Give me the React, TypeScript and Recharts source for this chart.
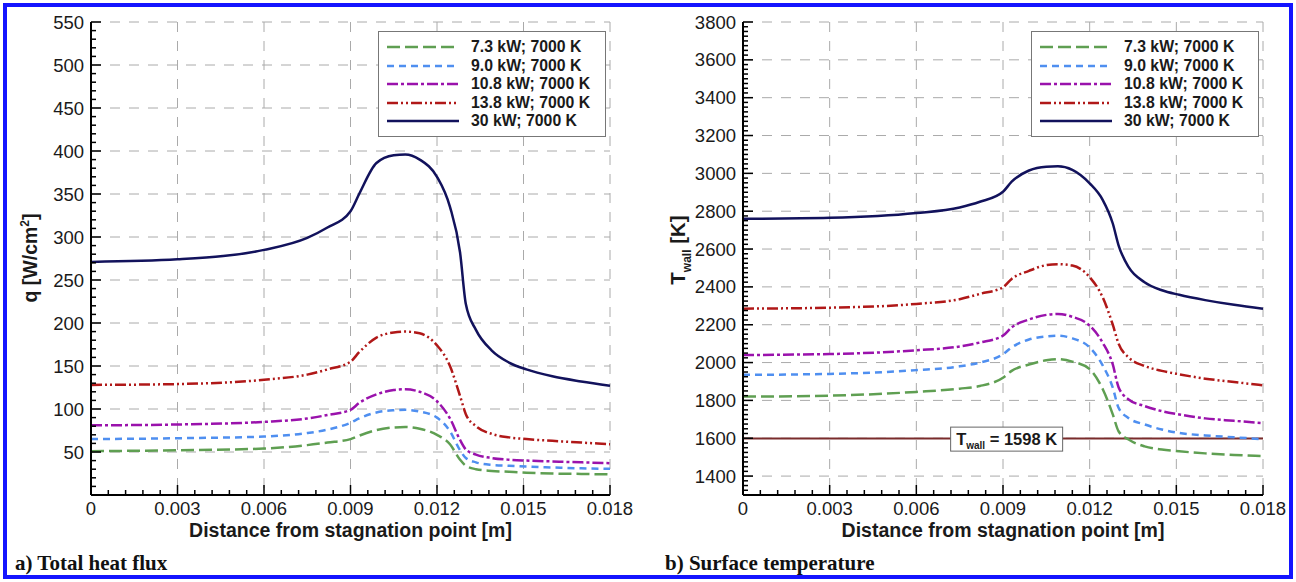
import React from 'react';
import { LineChart, Line, XAxis, YAxis, CartesianGrid, ReferenceLine, Legend, Label } from 'recharts';

// distance from stagnation point [m]
const xPos = [0, 0.003, 0.006, 0.0075, 0.0082, 0.009, 0.0093, 0.0099, 0.0105, 0.0109, 0.0114, 0.012, 0.01245, 0.0128, 0.013, 0.01335, 0.0139, 0.0145, 0.0151, 0.016, 0.017, 0.018];

// total heat flux q [W/cm2]
const q73 = [51, 52, 54, 58, 61, 65, 69, 75.5, 78.5, 79, 77, 70, 59, 41, 34, 30, 28, 27, 26, 25, 24.5, 24];
const q90 = [65, 66, 68, 72, 76, 84, 89, 96, 98.5, 99, 97, 90, 74, 52, 43, 38, 35, 34, 33, 32, 31, 30.5];
const q108 = [81, 82, 85, 89, 93, 99, 107, 117, 122, 123, 120, 109, 89, 64, 53, 47, 43, 41, 40, 39, 38, 37];
const q138 = [128, 129, 134, 140, 146, 155, 166, 183, 189, 190, 188, 174, 150, 115, 94, 80, 71, 67, 65, 63, 61, 59];
const q300 = [271, 274, 285, 299, 311, 330, 350, 386, 395, 396, 390, 370, 335, 282, 222, 192, 168, 154, 146, 138, 132, 127];

// surface temperature T_wall [K]
const t73 = [1820, 1825, 1845, 1862, 1876, 1920, 1956, 1990, 2012, 2018, 2005, 1965, 1860, 1726, 1637, 1593, 1557, 1540, 1531, 1520, 1512, 1505];
const t90 = [1935, 1940, 1960, 1980, 2000, 2044, 2080, 2122, 2138, 2142, 2128, 2080, 1985, 1867, 1761, 1706, 1673, 1646, 1628, 1615, 1605, 1595];
const t108 = [2040, 2045, 2065, 2085, 2106, 2142, 2186, 2228, 2252, 2257, 2242, 2195, 2105, 1990, 1870, 1805, 1770, 1743, 1726, 1705, 1692, 1680];
const t138 = [2285, 2290, 2310, 2335, 2363, 2398, 2442, 2485, 2515, 2520, 2513, 2451, 2345, 2200, 2100, 2027, 1982, 1956, 1938, 1915, 1897, 1880];
const t300 = [2760, 2765, 2790, 2820, 2850, 2903, 2956, 3015, 3035, 3037, 3018, 2947, 2860, 2735, 2620, 2504, 2425, 2382, 2358, 2330, 2305, 2285];

const seriesNames = ['7.3 kW; 7000 K', '9.0 kW; 7000 K', '10.8 kW; 7000 K', '13.8 kW; 7000 K', '30 kW; 7000 K'];

const xMajorTicks = [0, 0.003, 0.006, 0.009, 0.012, 0.015, 0.018];
const qMajorTicks = [50, 100, 150, 200, 250, 300, 350, 400, 450, 500, 550];
const tMajorTicks = [1400, 1600, 1800, 2000, 2200, 2400, 2600, 2800, 3000, 3200, 3400, 3600, 3800];
const tWallLimit = 1598;

const styles = [
  { key: 's0', color: '#5f9f52', dash: '13 5' },
  { key: 's1', color: '#4f8ff0', dash: '7 5' },
  { key: 's2', color: '#9a12ac', dash: '11 3 3 3' },
  { key: 's3', color: '#b01818', dash: '11 3 2 3 2 3' },
  { key: 's4', color: '#12125c', dash: undefined as string | undefined },
];

const FONT = "'Liberation Sans', Arial, Helvetica, sans-serif";
const TICK_FS = 18.5;
const TITLE_FS = 19.5;

const qData = xPos.map((x, i) => ({ x, s0: q73[i], s1: q90[i], s2: q108[i], s3: q138[i], s4: q300[i] }));
const tData = xPos.map((x, i) => ({ x, s0: t73[i], s1: t90[i], s2: t108[i], s3: t138[i], s4: t300[i] }));

// minor ticks
const xAllTicks = Array.from({ length: 31 }, (_, i) => Number((i * 0.0006).toFixed(5)));
const qAllTicks = Array.from({ length: 56 }, (_, i) => i * 10);
const tAllTicks = Array.from({ length: 101 }, (_, i) => 1300 + i * 25);

const isMajor = (v: number, majors: number[]) => majors.some((m) => Math.abs(m - v) < 1e-9);

function XTick({ x, y, payload }: any) {
  const major = isMajor(payload.value, xMajorTicks);
  return (
    <g>
      <line x1={x} x2={x} y1={y} y2={y - (major ? 10 : 5)} stroke="#000" strokeWidth={1.5} />
      {major && (
        <text x={x} y={y + 20} textAnchor="middle" fontSize={TICK_FS} fontFamily={FONT} fill="#1a1a1a">
          {payload.value === 0 ? '0' : payload.value.toFixed(3)}
        </text>
      )}
    </g>
  );
}

function YTick({ x, y, payload, majors }: any) {
  const major = isMajor(payload.value, majors);
  return (
    <g>
      <line x1={x} x2={x + (major ? 10 : 5)} y1={y} y2={y} stroke="#000" strokeWidth={1.5} />
      {major && (
        <text x={x - 7} y={y + 6.5} textAnchor="end" fontSize={TICK_FS} fontFamily={FONT} fill="#1a1a1a">
          {payload.value}
        </text>
      )}
    </g>
  );
}

function LegendBox() {
  return (
    <div style={{ border: '1px solid #777', background: '#fff', padding: '6px 8px 5px 8px', width: 228, boxSizing: 'border-box' }}>
      {seriesNames.map((name, i) => (
        <div key={name} style={{ display: 'flex', alignItems: 'center', height: 18.5 }}>
          <svg width={72} height={6}>
            <line x1={0} x2={72} y1={3} y2={3} stroke={styles[i].color} strokeWidth={2.5} strokeDasharray={styles[i].dash} />
          </svg>
          <span style={{ marginLeft: 12, fontFamily: FONT, fontWeight: 'bold', fontSize: 15.8, color: '#1a1a1a', whiteSpace: 'nowrap' }}>{name}</span>
        </div>
      ))}
    </div>
  );
}

const xTitle = (props: any) => {
  const vb = props.viewBox;
  return (
    <text x={vb.x + vb.width / 2} y={vb.y + 42} textAnchor="middle" fontSize={TITLE_FS} fontWeight="bold" fontFamily={FONT} fill="#1a1a1a">
      Distance from stagnation point [m]
    </text>
  );
};

function Panel({ data, yDomain, yTicks, yMajors, width, marginLeft, marginRight, yTitle, children }: any) {
  return (
    <LineChart width={width} height={582} data={data} margin={{ top: 22, right: marginRight, bottom: 27, left: marginLeft }}>
      <CartesianGrid stroke="#aaaaaa" strokeDasharray="10 9" horizontalValues={yMajors} verticalValues={xMajorTicks.slice(1)} />
      <XAxis
        dataKey="x"
        type="number"
        domain={[0, 0.018]}
        ticks={xAllTicks}
        interval={0}
        tick={<XTick />}
        tickLine={false}
        tickSize={0}
        tickMargin={0}
        height={60}
        axisLine={{ stroke: '#000', strokeWidth: 2 }}
      >
        <Label content={xTitle} />
      </XAxis>
      <YAxis
        type="number"
        domain={yDomain}
        ticks={yTicks}
        interval={0}
        tick={(p: any) => <YTick {...p} majors={yMajors} />}
        tickLine={false}
        tickSize={0}
        tickMargin={0}
        width={60}
        axisLine={{ stroke: '#000', strokeWidth: 2 }}
      >
        <Label content={yTitle} />
      </YAxis>
      {children}
      {styles.map((s) => (
        <Line
          key={s.key}
          dataKey={s.key}
          type="monotone"
          stroke={s.color}
          strokeWidth={2.5}
          strokeDasharray={s.dash}
          dot={false}
          activeDot={false}
          isAnimationActive={false}
        />
      ))}
      <Legend
        layout="vertical"
        align="center"
        verticalAlign="middle"
        content={() => <LegendBox />}
        wrapperStyle={{ position: 'absolute', left: width - marginRight - 232, top: 31, width: 228 }}
      />
    </LineChart>
  );
}

const qTitle = () => (
  <text transform="rotate(-90 37 258)" x={37} y={258} textAnchor="middle" fontSize={TITLE_FS} fontWeight="bold" fontFamily={FONT} fill="#1a1a1a">
    q [W/cm<tspan dy={-8} fontSize={12}>2</tspan>
    <tspan dy={8}>]</tspan>
  </text>
);

const tTitle = () => (
  <text transform="rotate(-90 35 250)" x={35} y={250} textAnchor="middle" fontSize={TITLE_FS + 1} fontWeight="bold" fontFamily={FONT} fill="#1a1a1a">
    T<tspan dy={6} fontSize={12}>wall</tspan>
    <tspan dy={-6}> [K]</tspan>
  </text>
);

const wallLabel = (props: any) => {
  const vb = props.viewBox;
  const cx = vb.x + vb.width * 0.507;
  const cy = vb.y;
  return (
    <g>
      <rect x={cx - 56} y={cy - 11.5} width={112} height={24} fill="#fff" stroke="#666" strokeWidth={1} />
      <text x={cx} y={cy + 6} textAnchor="middle" fontSize={16.5} fontWeight="bold" fontFamily={FONT} fill="#1a1a1a">
        T<tspan dy={4} fontSize={10}>wall</tspan>
        <tspan dy={-4}> = 1598 K</tspan>
      </text>
    </g>
  );
};

const captionStyle: React.CSSProperties = {
  position: 'absolute',
  top: 551,
  fontFamily: "'Liberation Serif', 'Times New Roman', serif",
  fontWeight: 'bold',
  fontSize: 21,
  color: '#111',
  whiteSpace: 'nowrap',
};

export default function App() {
  return (
    <div style={{ position: 'absolute', left: 0, top: 0, width: 1296, height: 582, background: '#fff', overflow: 'hidden' }}>
      <div style={{ position: 'absolute', left: 0, top: 0 }}>
        <Panel data={qData} yDomain={[0, 550]} yTicks={qAllTicks} yMajors={qMajorTicks} width={648} marginLeft={31} marginRight={38} yTitle={qTitle} />
      </div>
      <div style={{ position: 'absolute', left: 650, top: 0 }}>
        <Panel data={tData} yDomain={[1300, 3800]} yTicks={tAllTicks} yMajors={tMajorTicks} width={646} marginLeft={33} marginRight={33} yTitle={tTitle}>
          <ReferenceLine y={tWallLimit} stroke="#7a2c2c" strokeWidth={2} label={wallLabel} />
        </Panel>
      </div>
      <div style={{ ...captionStyle, left: 15 }}>a) Total heat flux</div>
      <div style={{ ...captionStyle, left: 665 }}>b) Surface temperature</div>
      <div style={{ position: 'absolute', left: 3, top: 3, width: 1290, height: 576, border: '4px solid #1414ff', boxSizing: 'border-box', pointerEvents: 'none' }} />
    </div>
  );
}
